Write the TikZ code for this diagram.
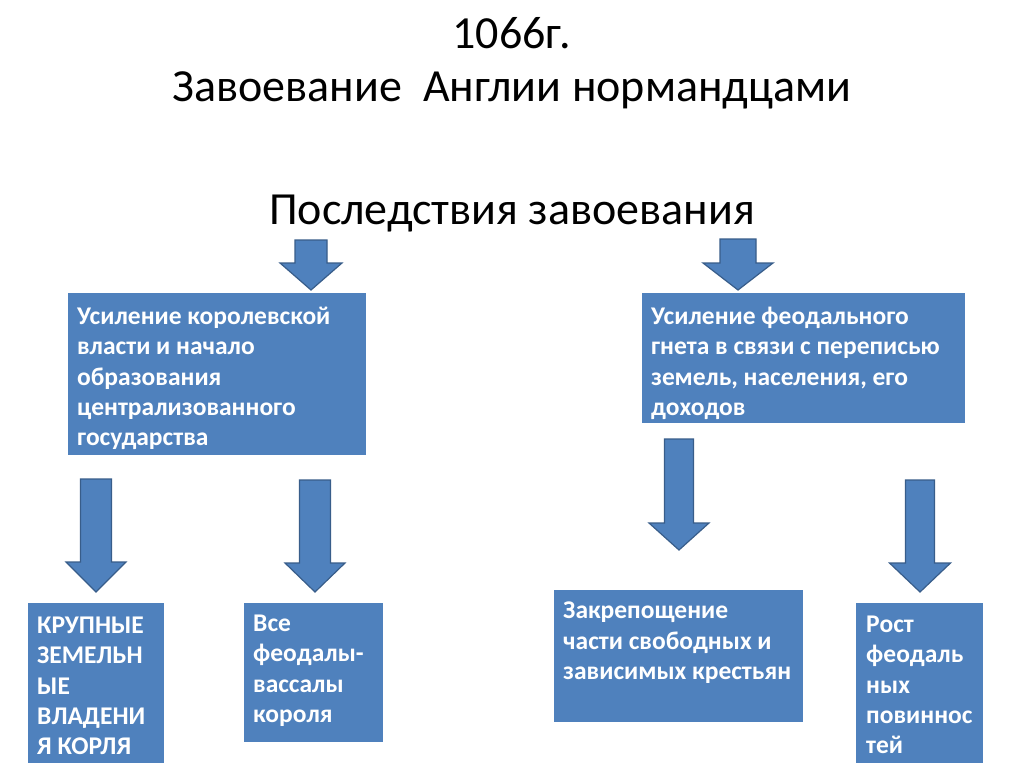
\documentclass[tikz,border=0pt]{standalone}
\usepackage{fontspec}
\setmainfont{Carlito}
\definecolor{boxblue}{HTML}{4F81BD}
\definecolor{edgeblue}{HTML}{385D8A}
\tikzset{
  title/.style={anchor=base, inner sep=0, text=black, font=\fontsize{46}{50}\selectfont},
  box/.style={fill=boxblue, draw=none, anchor=north west, inner sep=0},
  boxtext/.style={anchor=north west, inner sep=0, align=left, text=white,
    font=\fontsize{25.5}{30.2}\selectfont\bfseries, execute at begin node=\strut},
  arrowshape/.style={fill=boxblue, draw=edgeblue, line width=1.2pt, line join=miter}
}
% block arrow: centre x, top y, head base y, tip y, shaft half width, head half width
\newcommand{\blockarrow}[6]{%
  \draw[arrowshape] (#1-#5,#2) -- (#1+#5,#2) -- (#1+#5,#3) -- (#1+#6,#3)
    -- (#1,#4) -- (#1-#6,#3) -- (#1-#5,#3) -- cycle;}
\begin{document}
\begin{tikzpicture}[x=1pt, y=-1pt]
  \useasboundingbox[fill=white] (0,0) rectangle (1024,767);

  \node[title] (year) at (512,49) {1066г.};
  \node[title] (conquest) at (512,102) {Завоевание\ \ Англии нормандцами};
  \node[title] (results) at (512,225) {Последствия завоевания};

  \blockarrow{311}{240}{263}{290}{16}{31}
  \blockarrow{738}{239}{263}{290}{18}{35}

  \node[box, minimum width=298, minimum height=162] (king) at (68,293) {};
  \node[boxtext] (kingtext) at ([xshift=9, yshift=-14]king.north west)
    {Усиление королевской\\власти и начало\\образования\\централизованного\\государства};

  \node[box, minimum width=323, minimum height=130] (yoke) at (642,293) {};
  \node[boxtext] (yoketext) at ([xshift=9, yshift=-14]yoke.north west)
    {Усиление феодального\\гнета в связи с переписью\\земель, населения, его\\доходов};

  \blockarrow{96}{479}{562}{592}{15.5}{30}
  \blockarrow{315}{480}{563}{592}{15.5}{30}
  \blockarrow{679}{439}{523}{550}{14.5}{30}
  \blockarrow{920}{480}{563}{592}{14.5}{30.5}

  \node[box, minimum width=136, minimum height=160] (lands) at (28,603) {};
  \node[boxtext] (landstext) at ([xshift=9, yshift=-14]lands.north west)
    {КРУПНЫЕ\\ЗЕМЕЛЬН\\ЫЕ\\ВЛАДЕНИ\\Я КОРЛЯ};

  \node[box, minimum width=139, minimum height=139] (vassals) at (244,603) {};
  \node[boxtext] (vassalstext) at ([xshift=9, yshift=-12]vassals.north west)
    {Все\\феодалы-\\вассалы\\короля};

  \node[box, minimum width=249, minimum height=132] (serfs) at (554,590) {};
  \node[boxtext] (serfstext) at ([xshift=9, yshift=-12]serfs.north west)
    {Закрепощение\\части свободных и\\зависимых крестьян};

  \node[box, minimum width=127, minimum height=160] (duties) at (856,603) {};
  \node[boxtext] (dutiestext) at ([xshift=10, yshift=-13]duties.north west)
    {Рост\\феодаль\\ных\\повиннос\\тей};
\end{tikzpicture}
\end{document}
